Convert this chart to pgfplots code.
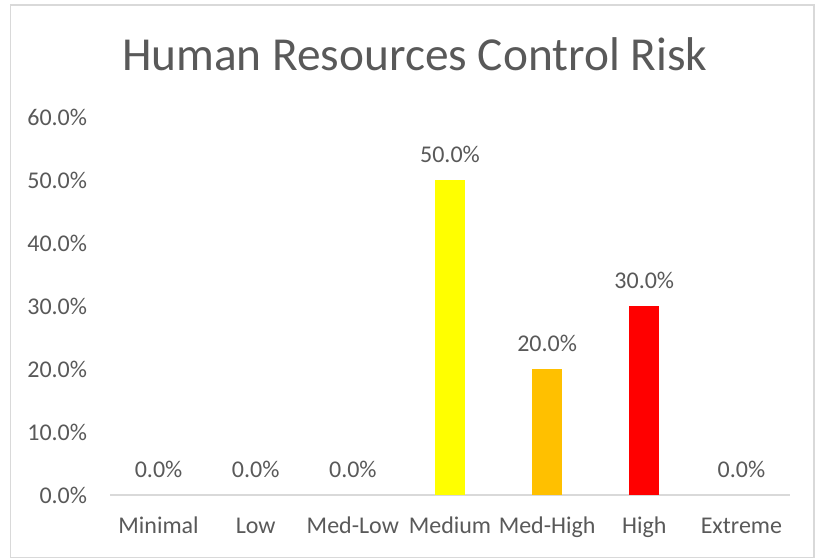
\documentclass[border=0pt]{standalone}
\usepackage{pgfplots}
\pgfplotsset{compat=1.18}
\usepackage{fontspec}
\setmainfont{Carlito}
\definecolor{txt}{HTML}{595959}
\definecolor{axl}{HTML}{D9D9D9}
\definecolor{cyel}{HTML}{FFFF00}
\definecolor{corg}{HTML}{FFC000}
\definecolor{cred}{HTML}{FF0000}
\begin{document}
\begin{tikzpicture}[x=1pt,y=1pt]
\path (0,0) rectangle (612.75,417);
\draw[axl,line width=0.8pt] (8,-1) rectangle (610.5,413.25);
\node[anchor=base,text=txt,font=\fontsize{35.5}{40}\selectfont] at (311,363.75) {Human Resources Control Risk};
\begin{axis}[
  at={(82.5pt,45.75pt)}, anchor=south west,
  scale only axis, width=510pt, height=283.5pt,
  xmin=-0.5, xmax=6.5, ymin=0, ymax=60,
  enlargelimits=false,
  axis x line*=bottom, axis y line=none,
  x axis line style={axl, line width=0.9pt, -},
  xtick={0,1,2,3,4,5,6},
  xticklabels={Minimal,Low,Med-Low,Medium,Med-High,High,Extreme},
  major tick length=0pt,
  xticklabel style={text=txt, font=\fontsize{18}{21}\selectfont, anchor=base, yshift=-28.5pt},
  ytick={0,10,20,30,40,50,60},
  ybar, bar width=22.5pt, bar shift=0pt,
  nodes near coords={\pgfmathprintnumber[fixed,fixed zerofill,precision=1]{\pgfplotspointmeta}\%},
  nodes near coords style={text=txt, font=\fontsize{18}{21}\selectfont, anchor=south, inner sep=0pt, yshift=13pt, /pgf/number format/assume math mode=true},
  clip=false,
]
\addplot[draw=none, fill=none] coordinates {(0,0) (1,0) (2,0) (6,0)};
\addplot[draw=none, fill=cyel] coordinates {(3,50)};
\addplot[draw=none, fill=corg] coordinates {(4,20)};
\addplot[draw=none, fill=cred] coordinates {(5,30)};
\end{axis}
\foreach \v/\p in {0/0.0,10/10.0,20/20.0,30/30.0,40/40.0,50/50.0,60/60.0}{
  \node[anchor=east,text=txt,font=\fontsize{18}{21}\selectfont,inner sep=0pt] at (65.5,45.75+\v*4.725) {\p\%};
}
\end{tikzpicture}
\end{document}
